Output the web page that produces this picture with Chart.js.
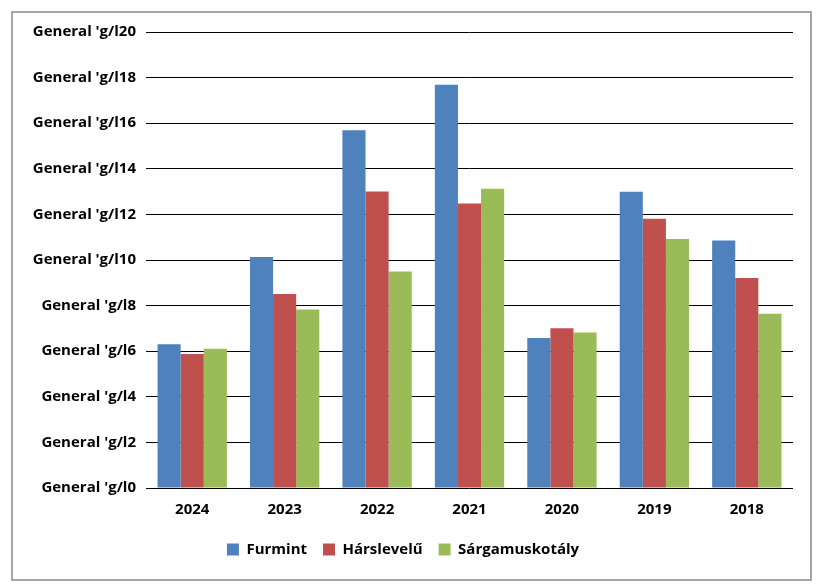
<!DOCTYPE html>
<html>
<head>
<meta charset="utf-8">
<script src="https://cdn.jsdelivr.net/npm/chart.js@4/dist/chart.umd.min.js"></script>
<style>
  html, body { margin: 0; padding: 0; background: #fff; }
  #frame {
    position: absolute; left: 11px; top: 11px;
    width: 797px; height: 566px;
    border: 2px solid #a6a6a6;
  }
  #frame canvas { display: block; }
</style>
</head>
<body>
<div id="frame"><canvas id="barChart" width="797" height="566"></canvas></div>
<script>
const years = ['2024', '2023', '2022', '2021', '2020', '2019', '2018'];

const furmint = [6.30, 10.13, 15.69, 17.69, 6.58, 12.99, 10.85];
const harslevelu = [5.88, 8.51, 13.0, 12.48, 7.01, 11.81, 9.21];
const sargamuskotaly = [6.11, 7.83, 9.50, 13.13, 6.82, 10.92, 7.64];

const tickPrefix = "General 'g/l";

const font = { family: '"Open Sans", sans-serif', size: 15, weight: 'bold' };

const ctx = document.getElementById('barChart');

new Chart(ctx, {
  type: 'bar',
  data: {
    labels: years,
    datasets: [
      { label: 'Furmint', data: furmint, backgroundColor: '#4F81BD' },
      { label: 'Hárslevelű', data: harslevelu, backgroundColor: '#C0504D' },
      { label: 'Sárgamuskotály', data: sargamuskotaly, backgroundColor: '#9BBB59' }
    ]
  },
  options: {
    responsive: false,
    animation: false,
    categoryPercentage: 0.75,
    barPercentage: 1.0,
    layout: {
      padding: { top: 6, right: 17, bottom: 12, left: 0 }
    },
    plugins: {
      tooltip: { enabled: false },
      legend: {
        position: 'bottom',
        labels: {
          color: '#000',
          font: font,
          boxWidth: 12,
          boxHeight: 12,
          padding: 16
        }
      }
    },
    scales: {
      x: {
        afterFit: (scale) => { scale.height = 38; },
        grid: { display: false },
        border: { display: false },
        ticks: { color: '#000', font: font, padding: 5, maxRotation: 0 }
      },
      y: {
        min: 0,
        max: 20,
        afterFit: (scale) => { scale.width = 133; },
        grid: { color: '#000', lineWidth: 1, drawTicks: false },
        border: { display: false },
        ticks: {
          stepSize: 2,
          color: '#000',
          font: font,
          padding: 10,
          callback: (value) => tickPrefix + value
        }
      }
    }
  }
});
</script>
</body>
</html>
